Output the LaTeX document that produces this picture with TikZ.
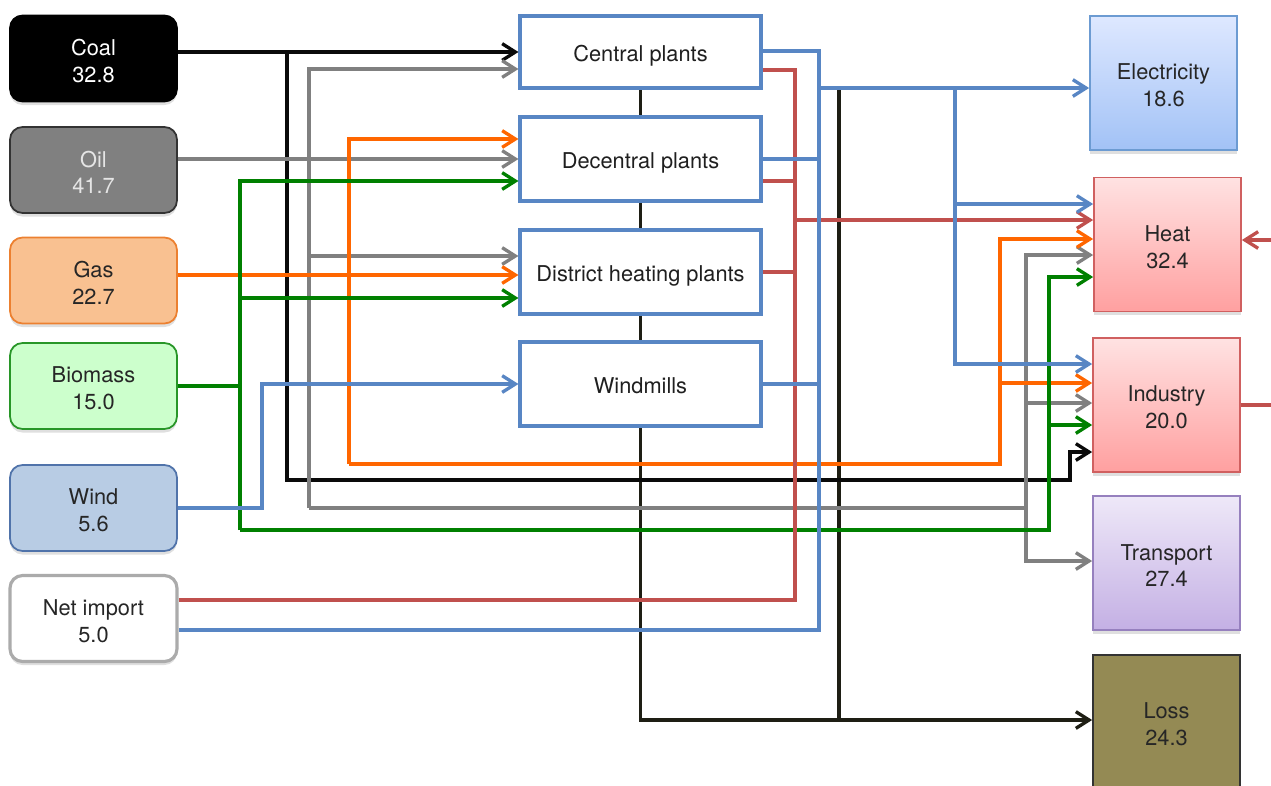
\documentclass[tikz,border=0pt]{standalone}
\usepackage{fontspec}
\setmainfont{TeX Gyre Heros}
\usetikzlibrary{arrows.meta,shadows}
\pgfdeclarelayer{background}
\pgfsetlayers{background,main}
\definecolor{clblue}{RGB}{88,134,196}
\definecolor{clred}{RGB}{192,80,77}
\definecolor{clorange}{RGB}{255,102,0}
\definecolor{clgray}{RGB}{128,128,128}
\definecolor{clgreen}{RGB}{0,128,0}
\definecolor{clblack}{RGB}{10,10,10}
\definecolor{clloss}{RGB}{30,30,20}
\definecolor{gasfill}{RGB}{249,193,145}
\definecolor{gasdraw}{RGB}{236,128,48}
\definecolor{biofill}{RGB}{204,255,204}
\definecolor{biodraw}{RGB}{40,150,40}
\definecolor{windfill}{RGB}{184,204,228}
\definecolor{winddraw}{RGB}{80,115,170}
\definecolor{elecdraw}{RGB}{108,155,210}
\definecolor{electop}{RGB}{222,232,255}
\definecolor{elecbot}{RGB}{162,194,246}
\definecolor{heatdraw}{RGB}{208,96,96}
\definecolor{heattop}{RGB}{255,226,226}
\definecolor{heatbot}{RGB}{255,160,160}
\definecolor{trdraw}{RGB}{150,128,190}
\definecolor{trtop}{RGB}{238,232,248}
\definecolor{trbot}{RGB}{196,176,228}
\definecolor{lossfill}{RGB}{148,138,84}
\newcommand{\tstrut}{\rule{0pt}{11.9pt}}
\begin{document}
\begin{tikzpicture}[x=0.02cm,y=-0.02cm,
  txtf/.style={font=\fontsize{12.4}{15.2}\selectfont, inner sep=0pt},
  txt/.style={txtf, align=center},
  lbox/.style={txt, rounded corners=0.25cm, minimum width=3.34cm, minimum height=1.72cm, line width=1pt,
     drop shadow={shadow xshift=0pt, shadow yshift=-2pt, opacity=0.25}},
  cbox/.style={txtf, draw=clblue, fill=white, line width=1.8pt, minimum width=4.82cm, minimum height=1.68cm,
     text height=10.8pt, text depth=0pt, text=black!88},
  rbox/.style={txt, minimum width=2.94cm, minimum height=2.68cm, line width=1pt,
     drop shadow={shadow xshift=0pt, shadow yshift=-2pt, opacity=0.25}},
  fl/.style={line width=1.9pt},
  arr/.style={-{Straight Barb[length=7.5pt,width=9.5pt]}},
  fblu/.style={fl, draw=clblue},
  fred/.style={fl, draw=clred},
  forg/.style={fl, draw=clorange},
  fgry/.style={fl, draw=clgray},
  fgrn/.style={fl, draw=clgreen},
  fblk/.style={fl, draw=clblack},
  floss/.style={fl, draw=clloss},
]
\useasboundingbox (0,0) rectangle (1271,785);

% left sources
\node[lbox, fill=black, draw=black, text=white] (coal) at (93.5,58.5) {\tstrut Coal\\32.8};
\node[lbox, fill=clgray, draw=black!80, text=white!90!black] (oil) at (93.5,170) {\tstrut Oil\\41.7};
\node[lbox, fill=gasfill, draw=gasdraw, text=black!85] (gas) at (93.5,280.5) {\tstrut Gas\\22.7};
\node[lbox, fill=biofill, draw=biodraw, text=black!85] (bio) at (93.5,386) {\tstrut Biomass\\15.0};
\node[lbox, fill=windfill, draw=winddraw, text=black!85] (wind) at (93.5,508) {\tstrut Wind\\5.6};
\node[lbox, fill=white, draw=black!33, line width=1.8pt, text=black!85] (net) at (93.5,618.5) {\tstrut Net import\\5.0};

% center plants
\node[cbox, minimum height=1.44cm] (cp) at (640.5,52) {Central plants};
\node[cbox] (dp) at (640.5,159) {Decentral plants};
\node[cbox] (dh) at (640.5,272) {District heating plants};
\node[cbox] (wm) at (640.5,384) {Windmills};

% right sinks
\node[rbox, draw=elecdraw, top color=electop, bottom color=elecbot, text=black!85] (elec) at (1163.5,83) {\tstrut Electricity\\18.6};
\node[rbox, draw=heatdraw, top color=heattop, bottom color=heatbot, text=black!85] (heat) at (1167.5,244.5) {\tstrut Heat\\32.4};
\node[rbox, draw=heatdraw, top color=heattop, bottom color=heatbot, text=black!85] (ind) at (1166.5,405) {\tstrut Industry\\20.0};
\node[rbox, draw=trdraw, top color=trtop, bottom color=trbot, text=black!85] (tr) at (1166.5,563) {\tstrut Transport\\27.4};
\node[rbox, draw=black!80, fill=lossfill, text=black!85] (loss) at (1166.5,722) {\tstrut Loss\\24.3};

\coordinate (heatin) at (1271,240);
\coordinate (indout) at (1271,405);

\begin{pgfonlayer}{background}
% loss collector
\draw[floss, arr] (cp.south) -- (cp.south |- 0,720) -- (loss.west |- 0,720);
\draw[floss] (839,88) -- (839,720);
\end{pgfonlayer}

% coal
\draw[fblk, arr] (coal.east |- cp.west) -- (cp.west);
\draw[fblk, arr] (287,52) -- (287,480) -- (1070,480) -- (1070,452) -- (ind.west |- 0,452);

% oil
\draw[fgry, arr] (oil.east |- dp.west) -- (dp.west);
\draw[fgry, arr] (309,508) -- (309,69) -- (cp.west |- 0,69);
\draw[fgry, arr] (309,256) -- (dh.west |- 0,256);
\draw[fgry] (309,508) -- (1026,508);
\draw[fgry, arr] (1026,508) -- (1026,255) -- (heat.west |- 0,255);
\draw[fgry, arr] (1026,403) -- (ind.west |- 0,403);
\draw[fgry, arr] (1026,508) -- (1026,561) -- (tr.west |- 0,561);

% gas
\draw[forg, arr] (gas.east |- 0,275) -- (dh.west |- 0,275);
\draw[forg, arr] (349,464) -- (349,139) -- (dp.west |- 0,139);
\draw[forg, arr] (349,464) -- (1000,464) -- (1000,239) -- (heat.west |- 0,239);
\draw[forg, arr] (1000,383) -- (ind.west |- 0,383);

% biomass
\draw[fgrn] (bio.east) -- (240,386);
\draw[fgrn, arr] (240,530) -- (240,181) -- (dp.west |- 0,181);
\draw[fgrn, arr] (240,298) -- (dh.west |- 0,298);
\draw[fgrn, arr] (240,530) -- (1049,530) -- (1049,277) -- (heat.west |- 0,277);
\draw[fgrn, arr] (1049,425) -- (ind.west |- 0,425);

% wind
\draw[fblu, arr] (wind.east |- 0,508) -- (262,508) -- (262,384) -- (wm.west);

% heat network (red)
\draw[fred] (net.east |- 0,600) -- (795,600) -- (795,70) -- (cp.east |- 0,70);
\draw[fred] (dp.east |- 0,181) -- (795,181);
\draw[fred] (dh.east) -- (795,272);
\draw[fred, arr] (795,220) -- (heat.west |- 0,220);

% electricity network (blue)
\draw[fblu] (net.east |- 0,630) -- (819,630) -- (819,51) -- (cp.east |- 0,51);
\draw[fblu] (dp.east) -- (821,159);
\draw[fblu] (wm.east) -- (819,384);
\draw[fblu, arr] (819,88) -- (elec.west |- 0,88);
\draw[fblu, arr] (955,88) -- (955,364) -- (ind.west |- 0,364);
\draw[fblu, arr] (955,204) -- (heat.west |- 0,204);

% right side
\draw[fred, arr] (heatin) -- (heat.east |- heatin);
\draw[fred] (ind.east) -- (indout);
\end{tikzpicture}
\end{document}
